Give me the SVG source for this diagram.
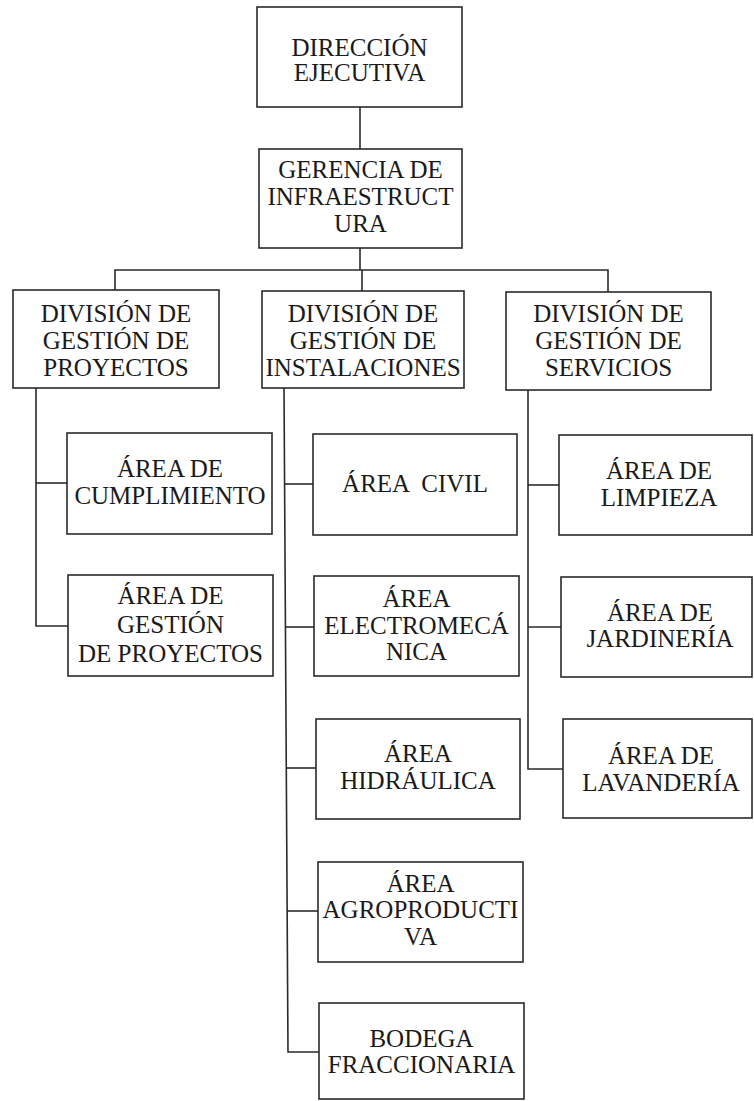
<svg xmlns="http://www.w3.org/2000/svg" width="754" height="1101" viewBox="0 0 754 1101">
<style>
.box{fill:#fff;stroke:#2a2a2a;stroke-width:1.6}
.ln{fill:none;stroke:#2a2a2a;stroke-width:1.6}
text{font-family:"Liberation Serif","Times New Roman",serif;font-size:25px;fill:#1a1a1a;text-anchor:middle}
</style>
<rect width="754" height="1101" fill="#fff"/>
<g id="connectors">
<path class="ln" d="M360,107V149"/>
<path class="ln" d="M360,248V270"/>
<path class="ln" d="M115,290V270H608V292"/>
<path class="ln" d="M362,270V291"/>
<path class="ln" d="M36,388V626H68"/>
<path class="ln" d="M36,483H67"/>
<path class="ln" d="M284,388L288,1052H319"/>
<path class="ln" d="M284,484H313"/>
<path class="ln" d="M285,627H314"/>
<path class="ln" d="M286,768H316"/>
<path class="ln" d="M287,911H318"/>
<path class="ln" d="M528,390V769H563"/>
<path class="ln" d="M528,485H559"/>
<path class="ln" d="M528,627H561"/>
</g>
<g id="n-direccion">
<rect class="box" x="257" y="7" width="205" height="100"/>
<text x="359.5" y="56">DIRECCIÓN</text>
<text x="359.5" y="81">EJECUTIVA</text>
</g>
<g id="n-gerencia">
<rect class="box" x="259" y="149" width="203" height="99"/>
<text x="360.5" y="178">GERENCIA DE</text>
<text x="360.5" y="205">INFRAESTRUCT</text>
<text x="360.5" y="232">URA</text>
</g>
<g id="n-div-proyectos">
<rect class="box" x="13" y="290" width="206" height="98"/>
<text x="116" y="322">DIVISIÓN DE</text>
<text x="116" y="349">GESTIÓN DE</text>
<text x="116" y="376">PROYECTOS</text>
</g>
<g id="n-div-instalaciones">
<rect class="box" x="262" y="291" width="202" height="97"/>
<text x="363" y="322">DIVISIÓN DE</text>
<text x="363" y="349">GESTIÓN DE</text>
<text x="363" y="376">INSTALACIONES</text>
</g>
<g id="n-div-servicios">
<rect class="box" x="506" y="292" width="205" height="98"/>
<text x="608.5" y="322">DIVISIÓN DE</text>
<text x="608.5" y="349">GESTIÓN DE</text>
<text x="608.5" y="376">SERVICIOS</text>
</g>
<g id="n-cumplimiento">
<rect class="box" x="67" y="433" width="205" height="101"/>
<text x="170" y="477">ÁREA DE</text>
<text x="170" y="504">CUMPLIMIENTO</text>
</g>
<g id="n-gestion-proyectos">
<rect class="box" x="68" y="575" width="205" height="101"/>
<text x="170.5" y="604">ÁREA DE</text>
<text x="170.5" y="633">GESTIÓN</text>
<text x="170.5" y="662">DE PROYECTOS</text>
</g>
<g id="n-civil">
<rect class="box" x="313" y="434" width="204" height="101"/>
<text x="415" y="492" xml:space="preserve">ÁREA  CIVIL</text>
</g>
<g id="n-electromecanica">
<rect class="box" x="314" y="576" width="205" height="100"/>
<text x="416.5" y="607">ÁREA</text>
<text x="416.5" y="634">ELECTROMECÁ</text>
<text x="416.5" y="660">NICA</text>
</g>
<g id="n-hidraulica">
<rect class="box" x="316" y="719" width="204" height="100"/>
<text x="418" y="762">ÁREA</text>
<text x="418" y="789">HIDRÁULICA</text>
</g>
<g id="n-agroproductiva">
<rect class="box" x="318" y="862" width="205" height="100"/>
<text x="420.5" y="892">ÁREA</text>
<text x="420.5" y="918">AGROPRODUCTI</text>
<text x="420.5" y="945">VA</text>
</g>
<g id="n-bodega">
<rect class="box" x="319" y="1003" width="205" height="96"/>
<text x="421.5" y="1047">BODEGA</text>
<text x="421.5" y="1073">FRACCIONARIA</text>
</g>
<g id="n-limpieza">
<rect class="box" x="559" y="435" width="193" height="100"/>
<text x="659" y="479">ÁREA DE</text>
<text x="659" y="506">LIMPIEZA</text>
</g>
<g id="n-jardineria">
<rect class="box" x="561" y="577" width="191" height="100"/>
<text x="660" y="621">ÁREA DE</text>
<text x="660" y="647">JARDINERÍA</text>
</g>
<g id="n-lavanderia">
<rect class="box" x="563" y="719" width="189" height="99"/>
<text x="661" y="764">ÁREA DE</text>
<text x="661" y="791">LAVANDERÍA</text>
</g>
</svg>
